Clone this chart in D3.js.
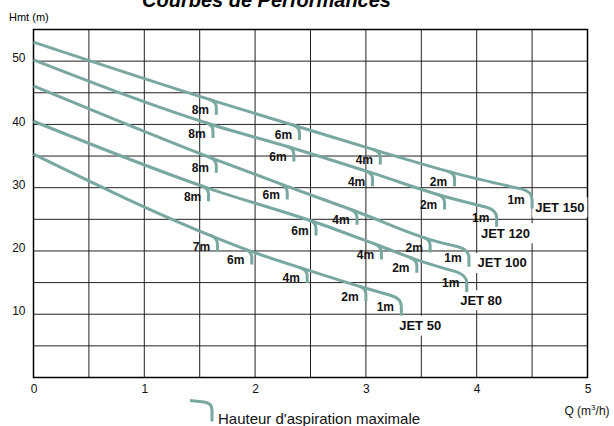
<!DOCTYPE html>
<html><head><meta charset="utf-8">
<script src="https://cdn.jsdelivr.net/npm/d3@7"></script>
<style>
html,body{margin:0;padding:0;background:#fff;}
svg{display:block;font-family:"Liberation Sans",Arial,sans-serif;}
</style></head>
<body>
<svg id="chart" width="614" height="426"></svg>
<script>
// ---- data ----
const seriesNames = ["JET 150", "JET 120", "JET 100", "JET 80", "JET 50"];
const flowJet150 = [0, 1.65, 2.40, 3.13, 3.80, 4.50];
const headJet150 = [53.0, 43.6, 39.6, 35.7, 32.3, 29.4];
const flowJet120 = [0, 1.62, 2.35, 3.06, 3.71, 4.18];
const headJet120 = [50.2, 39.9, 36.2, 32.3, 28.6, 26.5];
const flowJet100 = [0, 1.65, 2.29, 2.92, 3.58, 3.93];
const headJet100 = [46.1, 34.4, 30.2, 26.2, 21.8, 20.2];
const flowJet80 = [0, 1.58, 2.55, 3.14, 3.46, 3.91];
const headJet80 = [40.5, 29.9, 24.5, 20.7, 18.6, 16.2];
const flowJet50 = [0, 1.66, 1.97, 2.47, 3.00, 3.32];
const headJet50 = [35.3, 22.0, 19.9, 17.0, 14.1, 12.5];
const suctionJet150 = ["8m", "6m", "4m", "2m", "1m"];
const suctionJet120 = ["8m", "6m", "4m", "2m", "1m"];
const suctionJet100 = ["8m", "6m", "4m", "2m", "1m"];
const suctionJet80 = ["8m", "6m", "4m", "2m", "1m"];
const suctionJet50 = ["7m", "6m", "4m", "2m", "1m"];
const nameFlow = [4.75, 4.26, 4.23, 4.04, 3.49];
const nameHead = [26.9, 22.8, 18.1, 12.2, 8.2];
const xTicks = [0, 1, 2, 3, 4, 5];
const yTicks = [10, 20, 30, 40, 50];
const titleText = "Courbes de Performances";
const yTitle = "Hmt (m)";
const legendText = "Hauteur d'aspiration maximale";

const flows = [flowJet150, flowJet120, flowJet100, flowJet80, flowJet50];
const heads = [headJet150, headJet120, headJet100, headJet80, headJet50];
const suctions = [suctionJet150, suctionJet120, suctionJet100, suctionJet80, suctionJet50];

// ---- layout ----
const svg = d3.select("#chart");
const curveColor = "#78a89f";
const x = d3.scaleLinear().domain([0, 5]).range([33.5, 587.5]);
const y = d3.scaleLinear().domain([0, 55]).range([377.5, 29.5]);

// title
svg.append("text").attr("x", 266.5).attr("y", 6.5).attr("text-anchor", "middle")
  .style("font-weight", "bold").style("font-style", "italic").style("font-size", "20px")
  .text(titleText);

// y title
svg.append("text").attr("x", 9).attr("y", 21).style("font-size", "11px").text(yTitle);

// grid
const grid = svg.append("g");
d3.range(0, 5.001, 0.5).forEach(v => {
  grid.append("line").attr("x1", x(v)).attr("x2", x(v)).attr("y1", y(0)).attr("y2", y(55))
    .attr("stroke", "#222").attr("stroke-width", 1);
});
d3.range(0, 55.001, 5).forEach(v => {
  grid.append("line").attr("y1", y(v)).attr("y2", y(v)).attr("x1", x(0)).attr("x2", x(5))
    .attr("stroke", "#222").attr("stroke-width", 1);
});
grid.append("rect").attr("x", x(0)).attr("y", y(55)).attr("width", x(5) - x(0)).attr("height", y(0) - y(55))
  .attr("fill", "none").attr("stroke", "#000").attr("stroke-width", 1.5);

// axes
const xAxis = svg.append("g").attr("transform", `translate(0,${y(0)})`)
  .call(d3.axisBottom(x).tickValues(xTicks).tickSize(0).tickPadding(7).tickFormat(d3.format("d")));
xAxis.select(".domain").remove();
xAxis.selectAll("text").style("font-size", "12px").style("font-family", "'Liberation Sans',Arial,sans-serif").attr("fill", "#111");

const yAxis = svg.append("g").attr("transform", `translate(${x(0)},0)`)
  .call(d3.axisLeft(y).tickValues(yTicks).tickSize(0).tickPadding(8).tickFormat(d3.format("d")));
yAxis.select(".domain").remove();
yAxis.selectAll("text").attr("dy", "0.05em").style("font-size", "12px").style("font-family", "'Liberation Sans',Arial,sans-serif").attr("fill", "#111");

// name label backgrounds + labels layer
const bgLayer = svg.append("g");
const curveLayer = svg.append("g");
const textLayer = svg.append("g");

const line = d3.line().curve(d3.curveMonotoneX);

seriesNames.forEach((name, si) => {
  const pts = flows[si].map((q, i) => [x(q), y(heads[si][i])]);
  const n = pts.length;
  const [ex, ey] = pts[n - 1];
  const [px, py] = pts[n - 2];
  const s = (ey - py) / (ex - px);
  const r = 11;
  const c0 = [ex - r, ey - r * s];
  const d = line([...pts.slice(0, n - 1), c0]) + `Q${ex},${ey} ${ex},${ey + 8}L${ex},${ey + 17}`;
  curveLayer.append("path").attr("d", d).attr("fill", "none").attr("stroke", curveColor)
    .attr("stroke-width", 3).attr("stroke-linejoin", "round");

  // intermediate hooks
  for (let i = 1; i < n - 1; i++) {
    const [hx, hy] = pts[i];
    const sl = (pts[i + 1][1] - pts[i - 1][1]) / (pts[i + 1][0] - pts[i - 1][0]);
    const hd = `M${hx - 7},${hy - 7 * sl}Q${hx},${hy} ${hx},${hy + 6}L${hx},${hy + 13}`;
    curveLayer.append("path").attr("d", hd).attr("fill", "none").attr("stroke", curveColor)
      .attr("stroke-width", 3);
  }

  // suction labels
  suctions[si].forEach((lab, k) => {
    const [hx, hy] = pts[k + 1];
    textLayer.append("text").attr("x", hx - 16).attr("y", hy + 12.5).attr("text-anchor", "middle")
      .style("font-weight", "bold").style("font-size", "12px").attr("fill", "#111").text(lab);
  });

  // series name
  const t = textLayer.append("text").attr("x", x(nameFlow[si])).attr("y", y(nameHead[si]) + 4.5)
    .attr("text-anchor", "middle").style("font-weight", "bold").style("font-size", "13px")
    .attr("fill", "#111").text(name);
  const bb = t.node().getBBox();
  bgLayer.append("rect").attr("x", bb.x - 3).attr("y", y(nameHead[si]) - 10)
    .attr("width", bb.width + 6).attr("height", 20).attr("fill", "#fff");
});

// x-axis title
const qt = svg.append("text").attr("x", 587).attr("y", 415).attr("text-anchor", "middle")
  .style("font-size", "12px").attr("fill", "#111");
qt.append("tspan").text("Q (m");
qt.append("tspan").attr("dy", -5).style("font-size", "8px").text("3");
qt.append("tspan").attr("dy", 5).text("/h)");

// legend
svg.append("path").attr("d", "M190,400.5L204,402Q212,403 212,410L212,421.5")
  .attr("fill", "none").attr("stroke", curveColor).attr("stroke-width", 3);
svg.append("text").attr("x", 218).attr("y", 424).style("font-size", "15px").attr("fill", "#111").text(legendText);
</script>
</body></html>
